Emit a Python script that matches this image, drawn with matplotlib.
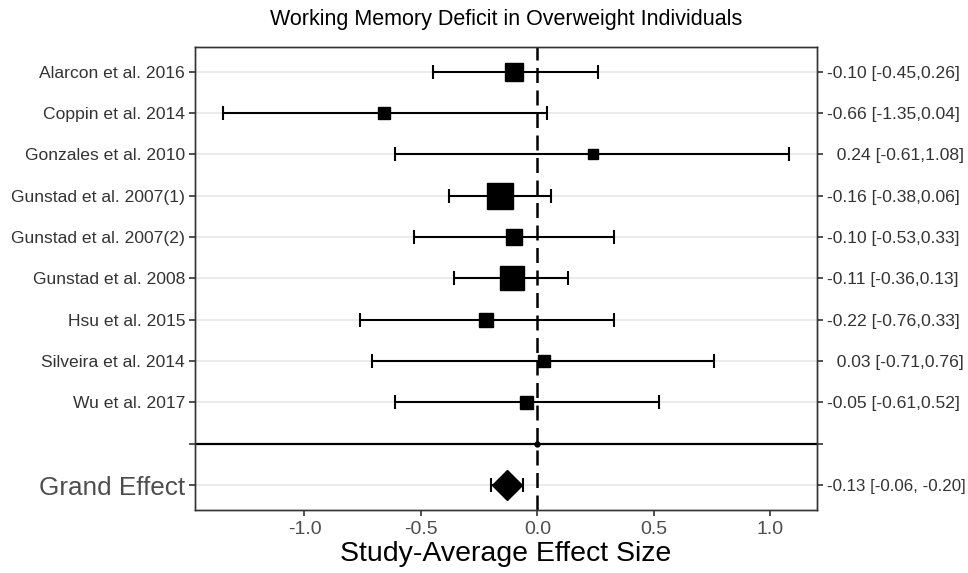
import matplotlib
matplotlib.use("Agg")
import matplotlib.pyplot as plt
import numpy as np

plt.rcParams["font.family"] = ["Liberation Sans", "DejaVu Sans"]

studies = ["Alarcon et al. 2016", "Coppin et al. 2014", "Gonzales et al. 2010",
           "Gunstad et al. 2007(1)", "Gunstad et al. 2007(2)", "Gunstad et al. 2008",
           "Hsu et al. 2015", "Silveira et al. 2014", "Wu et al. 2017"]
effect = [-0.10, -0.66, 0.24, -0.16, -0.10, -0.11, -0.22, 0.03, -0.05]
ci_lo = [-0.45, -1.35, -0.61, -0.38, -0.53, -0.36, -0.76, -0.71, -0.61]
ci_hi = [0.26, 0.04, 1.08, 0.06, 0.33, 0.13, 0.33, 0.76, 0.52]
weight = [18, 12, 10, 27, 16, 24, 14, 12, 13]   # relative box size
grand = -0.13
grand_lo, grand_hi = -0.20, -0.06
grand_label = "-0.13 [-0.06, -0.20]"

n = len(studies)
ypos = np.arange(n)[::-1] + 2.0          # studies at 10..2, blank divider at 1, grand at 0
y_div, y_grand = 1.0, 0.0

fig = plt.figure(figsize=(9.68, 5.73), dpi=100)
ax = fig.add_axes([0.2014, 0.110, 0.6426, 0.808])

for y in list(ypos) + [y_grand]:
    ax.axhline(y, color="#e8e8e8", lw=1.2, zorder=0)
ax.axhline(y_div, color="black", lw=1.6, zorder=1)
ax.plot([0], [y_div], "o", color="black", ms=3.5, zorder=3)

for y, m, lo, hi, w in zip(ypos, effect, ci_lo, ci_hi, weight):
    ax.errorbar(m, y, xerr=[[m - lo], [hi - m]], fmt="none", ecolor="black",
                elinewidth=1.5, capsize=5, capthick=1.5, zorder=2)
    ax.plot(m, y, "s", color="black", ms=w * 0.72, zorder=3)

ax.errorbar(grand, y_grand, xerr=[[grand - grand_lo], [grand_hi - grand]], fmt="none",
            ecolor="black", elinewidth=1.5, capsize=5, capthick=1.5, zorder=2)
ax.plot(grand, y_grand, "D", color="black", ms=15, zorder=3)

ax.axvline(0, color="black", lw=1.8, ls=(0, (6, 3)), zorder=2)

ax.set_xlim(-1.47, 1.20)
ax.set_ylim(-0.6, 10.6)
ax.set_xticks([-1.0, -0.5, 0.0, 0.5, 1.0])
ax.set_xticklabels(["-1.0", "-0.5", "0.0", "0.5", "1.0"], fontsize=14, color="#4d4d4d")
ax.set_yticks(list(ypos) + [y_div, y_grand])
ax.set_yticklabels(studies + ["", "Grand Effect"], fontsize=12.6, color="#333333")
ax.get_yticklabels()[-1].set_fontsize(18.8)
ax.get_yticklabels()[-1].set_color("#4d4d4d")

right = ax.twinx()
right.set_ylim(ax.get_ylim())
right_labels = [f"{m:.2f} [{lo:.2f},{hi:.2f}]" for m, lo, hi in zip(effect, ci_lo, ci_hi)]
right_labels = [("  " + s) if m >= 0 else s for s, m in zip(right_labels, effect)]
right.set_yticks(list(ypos) + [y_div, y_grand])
right.set_yticklabels(right_labels + ["", grand_label], fontsize=12.6, color="#333333")
right.get_yticklabels()[-1].set_fontsize(12.2)

for a in (ax, right):
    a.tick_params(axis="both", length=4, width=1.2, color="#333333", pad=3)
    for s in a.spines.values():
        s.set_color("#333333")
        s.set_linewidth(1.0)
ax.tick_params(axis="x", length=4, pad=4)

ax.set_xlabel("Study-Average Effect Size", fontsize=20.5, color="black", labelpad=2)
ax.set_title("Working Memory Deficit in Overweight Individuals", fontsize=15.5, pad=15.5)

fig.savefig("out.png", dpi=100)
